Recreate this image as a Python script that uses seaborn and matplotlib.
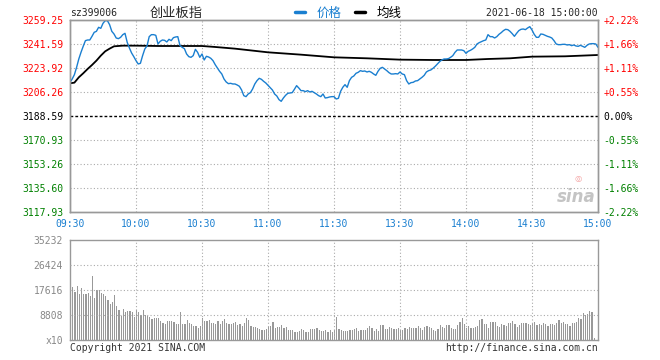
import matplotlib
matplotlib.use("Agg")
import matplotlib.pyplot as plt
import seaborn as sns
import numpy as np

# Kennzahlen / Achsen
prev_close = 3188.59
price_ticks = [3117.93, 3135.60, 3153.26, 3170.93, 3188.59, 3206.26, 3223.92, 3241.59, 3259.25]
price_labels = ['3117.93', '3135.60', '3153.26', '3170.93', '3188.59', '3206.26', '3223.92', '3241.59', '3259.25']
pct_labels = ['-2.22%', '-1.66%', '-1.11%', '-0.55%', '0.00%', '+0.55%', '+1.11%', '+1.66%', '+2.22%']
time_labels = ['09:30', '10:00', '10:30', '11:00', '11:30', '13:30', '14:00', '14:30', '15:00']
vol_ticks = [0, 8808, 17616, 26424, 35232]
vol_labels = ['x10', '8808', '17616', '26424', '35232']

# Minutenkurs (241 Punkte, 09:30-11:30 und 13:01-15:00)
price = [
    3213.38, 3215.84, 3219.02, 3224.42, 3230.55, 3235.46, 3239.88, 3244.05, 3244.54, 3244.54,
    3247.24, 3250.18, 3250.91, 3253.86, 3253.12, 3256.80, 3258.76, 3258.76, 3255.82, 3250.91,
    3248.95, 3246.01, 3245.52, 3246.50, 3248.46, 3249.44, 3242.82, 3238.65, 3234.97, 3232.27,
    3229.33, 3226.88, 3227.36, 3233.01, 3237.91, 3240.12, 3246.99, 3248.46, 3248.46, 3247.97,
    3241.59, 3243.56, 3244.54, 3244.29, 3243.07, 3245.03, 3244.05, 3246.25, 3246.75, 3246.99,
    3240.37, 3239.14, 3238.16, 3234.23, 3232.27, 3231.78, 3233.01, 3237.67, 3235.46, 3231.78,
    3234.23, 3229.82, 3232.52, 3232.03, 3231.05, 3229.33, 3226.38, 3223.93, 3221.48, 3219.52,
    3215.84, 3213.63, 3212.40, 3212.65, 3212.16, 3212.16, 3211.42, 3210.44, 3207.74, 3203.57,
    3202.84, 3204.80, 3205.78, 3208.48, 3212.16, 3214.61, 3216.33, 3215.59, 3214.12, 3212.89,
    3211.18, 3209.46, 3207.74, 3204.80, 3203.33, 3200.63, 3199.40, 3201.85, 3203.82, 3205.29,
    3205.53, 3205.78, 3208.23, 3210.93, 3209.21, 3207.25, 3207.25, 3206.52, 3207.25, 3206.27,
    3206.76, 3205.78, 3204.80, 3203.57, 3202.84, 3204.80, 3201.85, 3202.10, 3202.59, 3202.84,
    3202.84,
    3201.12, 3201.61, 3206.76, 3209.71, 3211.67, 3209.71, 3214.61, 3217.06, 3218.04, 3220.01,
    3220.74, 3221.97, 3221.48, 3221.72, 3220.99, 3221.48, 3220.74, 3219.52, 3218.53, 3221.48,
    3223.69, 3224.42, 3223.20, 3221.97, 3220.50, 3219.52, 3219.52, 3219.76, 3219.52, 3220.99,
    3219.52, 3219.02, 3214.61, 3212.16, 3213.14, 3213.38, 3214.36, 3214.61, 3215.84, 3217.06,
    3218.53, 3220.99, 3221.97, 3222.46, 3223.69, 3225.16, 3226.88, 3228.59, 3229.82, 3230.55,
    3230.55, 3230.80, 3231.78, 3233.01, 3235.46, 3237.18, 3237.18, 3237.18, 3236.69, 3234.72,
    3236.20, 3236.93, 3237.91, 3239.14, 3241.59, 3242.58, 3243.31, 3244.05, 3244.54, 3248.46,
    3246.99, 3246.99, 3246.01, 3246.99, 3248.71, 3249.93, 3251.41, 3252.39, 3252.14, 3250.91,
    3249.20, 3247.24, 3249.44, 3251.41, 3252.39, 3252.63, 3252.14, 3253.37, 3254.35, 3251.90,
    3248.71, 3246.50, 3246.50, 3248.95, 3248.71, 3247.97, 3247.24, 3246.75, 3246.01, 3244.05,
    3241.59, 3241.10, 3241.10, 3241.35, 3241.35, 3240.86, 3241.10, 3240.37, 3240.86, 3240.12,
    3239.88, 3240.61, 3239.88, 3239.14, 3240.61, 3241.59, 3241.84, 3241.84, 3241.59, 3239.14,
]

avg_minute = [0, 2, 4, 6, 8, 10, 12, 14, 16, 18, 20, 24, 30, 40, 50, 60, 66, 75, 90, 105,
              120, 135, 150, 165, 180, 190, 200, 210, 225, 240]
avg_price = [3212.65, 3213.14, 3217.06, 3220.01, 3223.20, 3226.14, 3229.33, 3233.01, 3236.20, 3238.16,
             3239.88, 3240.37, 3240.37, 3240.12, 3240.12, 3240.12, 3239.39, 3238.16, 3235.46, 3233.74,
             3231.78, 3231.05, 3230.07, 3229.82, 3229.82, 3230.55, 3231.05, 3232.27, 3232.52, 3233.50]

# Umsatz pro Minute
volume = [
    25000, 18800, 17000, 19100, 16300, 18400, 16300, 16300, 16700, 15600,
    22700, 14900, 17600, 17600, 16700, 16300, 15600, 14200, 12800, 13300,
    16000, 12100, 10700, 8600, 11000, 10000, 10300, 10300, 10000, 8200,
    10700, 10000, 8900, 10700, 8900, 8600, 8200, 7500, 7900, 7900,
    7900, 6800, 6100, 5800, 6800, 6800, 6800, 6500, 5800, 5800,
    10000, 5800, 5800, 7200, 6100, 5800, 5000, 5000, 4300, 5000,
    7900, 6800, 6800, 7200, 6100, 6100, 5800, 6800, 5800, 6800,
    7500, 6100, 5800, 5800, 6100, 6500, 5400, 5800, 5000, 6100,
    7900, 7200, 5000, 4700, 4700, 4300, 4000, 3600, 3600, 4000,
    4700, 5000, 6500, 4300, 4700, 4700, 5400, 4300, 4700, 3600,
    3600, 3600, 2900, 2900, 3300, 4000, 3600, 2900, 2900, 4000,
    4000, 4000, 4300, 3600, 3300, 3300, 3600, 2900, 3600, 2900,
    3600,
    8200, 4000, 3600, 3300, 3300, 3300, 3600, 3600, 4000, 4300,
    3300, 3600, 3600, 3600, 4300, 5000, 4300, 3300, 4000, 3300,
    5400, 5400, 4000, 4000, 4700, 4300, 4000, 4000, 4300, 3600,
    3600, 4300, 4000, 4700, 4300, 4300, 4300, 5000, 4300, 3600,
    4700, 5000, 4700, 4300, 3600, 3300, 4000, 5400, 4700, 4300,
    5400, 5400, 4300, 4000, 4000, 5400, 6500, 7900, 5800, 4300,
    5000, 4300, 4300, 4700, 5000, 7200, 7500, 5800, 5800, 4300,
    6500, 6500, 6500, 5000, 4700, 5800, 5400, 5000, 6100, 6100,
    6800, 5800, 4700, 5400, 6100, 6100, 6100, 5800, 5400, 6100,
    6500, 5400, 5800, 5400, 6100, 5800, 5000, 5800, 5800, 5400,
    6100, 7200, 6100, 6500, 5800, 5800, 5000, 6100, 6100, 6500,
    7900, 7500, 9600, 8900, 9300, 10300, 10000, 800,
]

minutes = np.arange(len(price))
vol_minutes = np.arange(len(volume))

sns.set_style("white")
plt.rcParams['font.family'] = ['DejaVu Sans Mono', 'Noto Sans CJK SC']
plt.rcParams['font.size'] = 7

BLUE = '#1a7fd0'
RED = '#ff0000'
GREEN = '#008000'
GRID = '#aaaaaa'
SPINE = '#999999'

W, H = 660, 360
fig = plt.figure(figsize=(6.6, 3.6), dpi=100)
ax = fig.add_axes([70 / W, 1 - 212 / H, 528 / W, 192 / H])

# Gitter
for t in price_ticks[1:-1]:
    if t == prev_close:
        ax.axhline(t, color='black', lw=1.0, ls=(0, (2, 1.5)), zorder=1)
    else:
        ax.axhline(t, color=GRID, lw=0.8, ls=(0, (1, 2)), zorder=1)
for m in range(30, 240, 30):
    ax.axvline(m, color=GRID, lw=0.8, ls=(0, (1, 2)), zorder=1)

sns.lineplot(x=minutes, y=price, ax=ax, color=BLUE, linewidth=1.0, zorder=3, label='价格')
sns.lineplot(x=avg_minute, y=avg_price, ax=ax, color='black', linewidth=1.3, zorder=2, label='均线')

ax.set_xlim(0, 240)
ax.set_ylim(price_ticks[0], price_ticks[-1])
ax.set_yticks(price_ticks)
ax.set_yticklabels(price_labels)
ax.set_xticks(range(0, 241, 30))
ax.set_xticklabels(time_labels)
ax.set_xlabel('')
ax.set_ylabel('')
ax.tick_params(axis='both', length=0, labelsize=7)
ax.tick_params(axis='y', pad=5)
ax.tick_params(axis='x', pad=5, colors=BLUE)
for lab, t in zip(ax.get_yticklabels(), price_ticks):
    lab.set_color(RED if t > prev_close else ('black' if t == prev_close else GREEN))
for s in ax.spines.values():
    s.set_color(SPINE)
    s.set_linewidth(1.0)

# Prozentachse rechts
axr = ax.twinx()
axr.set_ylim(price_ticks[0], price_ticks[-1])
axr.set_yticks(price_ticks)
axr.set_yticklabels(pct_labels)
axr.tick_params(axis='y', length=0, pad=4, labelsize=7)
for lab, t in zip(axr.get_yticklabels(), price_ticks):
    lab.set_color(RED if t > prev_close else ('black' if t == prev_close else GREEN))
for s in axr.spines.values():
    s.set_color(SPINE)
    s.set_linewidth(1.0)

# Legende
leg = ax.legend(loc='center left', bbox_to_anchor=(295 / W, 1 - 13 / H), bbox_transform=fig.transFigure,
                ncol=2, frameon=False, prop={'family': 'Noto Sans CJK SC', 'size': 9},
                handlelength=0.8, handletextpad=0.9, columnspacing=1.1, borderpad=0, borderaxespad=0)
for line in leg.get_lines():
    line.set_linewidth(2.5)
leg.get_texts()[0].set_color(BLUE)
leg.get_texts()[1].set_color('black')

# Wasserzeichen
ax.text(0.995, 0.03, 'sina', transform=ax.transAxes, ha='right', va='bottom', fontsize=12,
        style='italic', fontweight='bold', color='#c4c4c4', family='DejaVu Sans', zorder=0)
ax.text(0.962, 0.175, '◎', transform=ax.transAxes, ha='center', va='center', fontsize=6,
        color='#f4a0a0', family='DejaVu Sans', zorder=0)

# Umsatz
axv = fig.add_axes([70 / W, 20 / H, 528 / W, 100 / H])
axv.bar(vol_minutes, volume, width=0.5, align='edge', color='#999999', linewidth=0, zorder=2.6)
for t in vol_ticks[1:-1]:
    axv.axhline(t, color=GRID, lw=0.8, ls=(0, (1, 2)), zorder=3)
for m in range(30, 240, 30):
    axv.axvline(m, color=GRID, lw=0.8, ls=(0, (1, 2)), zorder=3)
axv.set_xlim(0, 240)
axv.set_ylim(0, 35232)
axv.set_yticks(vol_ticks)
axv.set_yticklabels(vol_labels)
axv.set_xticks([])
axv.tick_params(axis='y', length=0, pad=5, labelsize=7, colors='#888888')
for s in axv.spines.values():
    s.set_color(SPINE)
    s.set_linewidth(1.0)

# Kopf- und Fusszeilen
fig.text(70 / W, 1 - 13 / H, 'sz399006', ha='left', va='center', fontsize=7)
fig.text(150 / W, 1 - 13 / H, '创业板指', ha='left', va='center', fontsize=9.5, family='Noto Sans CJK SC')
fig.text(598 / W, 1 - 13 / H, '2021-06-18 15:00:00', ha='right', va='center', fontsize=7)
fig.text(70 / W, 1 - 348 / H, 'Copyright 2021 SINA.COM', ha='left', va='center', fontsize=7, color='#333333')
fig.text(598 / W, 1 - 348 / H, 'http://finance.sina.com.cn', ha='right', va='center', fontsize=7, color='#333333')

fig.savefig('out.png', dpi=100)
